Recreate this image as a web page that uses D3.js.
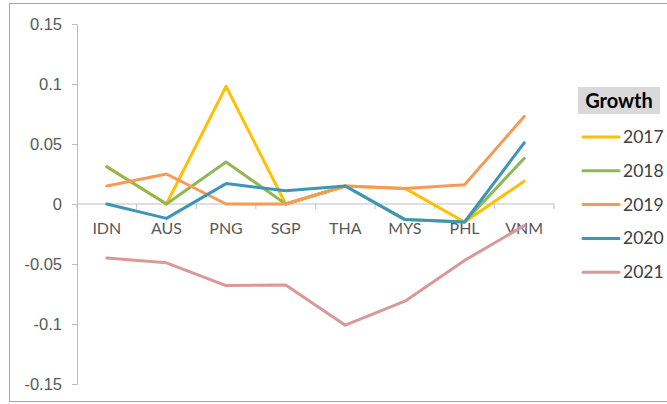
<!DOCTYPE html>
<html>
<head>
<meta charset="utf-8">
<script src="https://cdn.jsdelivr.net/npm/d3@7"></script>
<style>
  body { margin: 0; background: #fff; }
  svg { display: block; font-family: Lato, "Liberation Sans", sans-serif; }
</style>
</head>
<body>
<div id="chart"></div>
<script>
// categories and series
const countries = ["IDN", "AUS", "PNG", "SGP", "THA", "MYS", "PHL", "VNM"];
const years = ["2017", "2018", "2019", "2020", "2021"];
const g2017 = [0.031, 0, 0.098, 0, 0.015, 0.013, -0.015, 0.019];
const g2018 = [0.031, 0, 0.035, 0, 0.015, -0.013, -0.015, 0.038];
const g2019 = [0.015, 0.025, 0, 0, 0.015, 0.013, 0.016, 0.073];
const g2020 = [0, -0.012, 0.017, 0.011, 0.015, -0.013, -0.015, 0.051];
const g2021 = [-0.045, -0.049, -0.068, -0.0675, -0.101, -0.081, -0.047, -0.018];
const yTicks = [0.15, 0.1, 0.05, 0, -0.05, -0.1, -0.15];

const seriesList = [g2017, g2018, g2019, g2020, g2021];
const colors = ["#FFC000", "#8EB954", "#F79A57", "#3E96B4", "#DA9898"];

const width = 667, height = 404;
const plotLeft = 77, plotRight = 554, plotTop = 24, plotBottom = 384;

const svg = d3.select("#chart")
  .append("svg")
    .attr("width", width)
    .attr("height", height);

// chart border
svg.append("rect")
  .attr("x", 9.5).attr("y", 3.5)
  .attr("width", 700).attr("height", 398)
  .attr("fill", "none")
  .attr("stroke", "#A6A6A6")
  .attr("stroke-width", 1);

const x = d3.scaleBand()
  .domain(countries)
  .range([plotLeft, plotRight]);

const y = d3.scaleLinear()
  .domain([-0.15, 0.15])
  .range([plotBottom, plotTop]);

// y axis
const yAxis = svg.append("g")
  .attr("transform", `translate(${plotLeft},0)`)
  .call(d3.axisLeft(y).tickValues(yTicks).tickSize(5).tickPadding(10)
    .tickFormat(d => d === 0 ? "0" : String(+d.toFixed(2))));
yAxis.select(".domain").attr("stroke", "#BFBFBF");
yAxis.selectAll(".tick line").attr("stroke", "#BFBFBF");
yAxis.selectAll("text")
  .attr("fill", "#595959")
  .style("font-size", "16.5px");

// x axis at zero, ticks between categories
const xAxis = svg.append("g")
  .attr("transform", `translate(0,${y(0)})`);
xAxis.append("line")
  .attr("x1", plotLeft).attr("x2", plotRight)
  .attr("stroke", "#BFBFBF");
const bounds = countries.map(c => x(c)).concat([plotRight]);
xAxis.selectAll(".btick")
  .data(bounds)
  .join("line")
    .attr("class", "btick")
    .attr("x1", d => d).attr("x2", d => d)
    .attr("y1", 0).attr("y2", 5)
    .attr("stroke", "#BFBFBF");
xAxis.selectAll(".xlabel")
  .data(countries)
  .join("text")
    .attr("class", "xlabel")
    .attr("x", d => x(d) + x.bandwidth() / 2)
    .attr("y", 30)
    .attr("text-anchor", "middle")
    .attr("fill", "#595959")
    .style("font-size", "16px")
    .text(d => d);

// lines
const line = d3.line()
  .x((d, i) => x(countries[i]) + x.bandwidth() / 2)
  .y(d => y(d));

svg.selectAll(".series")
  .data(seriesList)
  .join("path")
    .attr("class", "series")
    .attr("d", d => line(d))
    .attr("fill", "none")
    .attr("stroke", (d, i) => colors[i])
    .attr("stroke-width", 3)
    .attr("stroke-linejoin", "round")
    .attr("stroke-linecap", "round");

// legend
const legend = svg.append("g");
legend.append("rect")
  .attr("x", 578).attr("y", 87)
  .attr("width", 82).attr("height", 27)
  .attr("fill", "#D9D9D9");
legend.append("text")
  .attr("x", 619).attr("y", 108)
  .attr("text-anchor", "middle")
  .attr("fill", "#000")
  .style("font-size", "20px")
  .style("font-weight", "bold")
  .text("Growth");

const items = legend.selectAll(".item")
  .data(years)
  .join("g")
    .attr("class", "item")
    .attr("transform", (d, i) => `translate(0,${137 + i * 33.8})`);
items.append("line")
  .attr("x1", 583).attr("x2", 619)
  .attr("stroke", (d, i) => colors[i])
  .attr("stroke-width", 3)
  .attr("stroke-linecap", "round");
items.append("text")
  .attr("x", 623).attr("y", 6)
  .attr("fill", "#404040")
  .style("font-size", "17.5px")
  .text(d => d);
</script>
</body>
</html>
